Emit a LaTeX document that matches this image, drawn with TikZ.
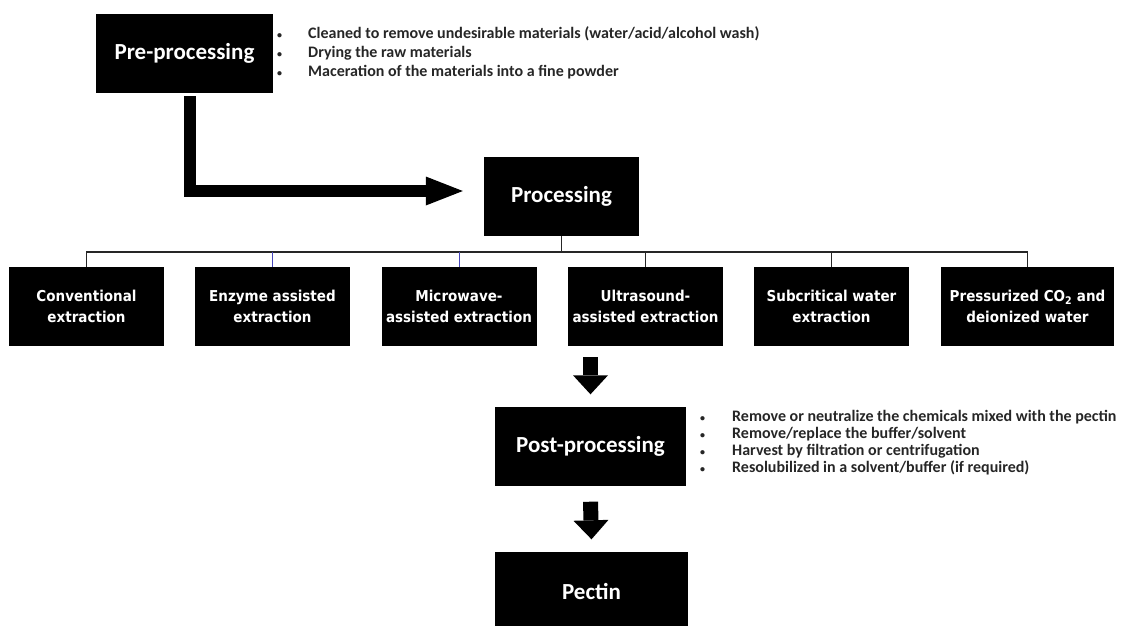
\documentclass[tikz,border=0pt]{standalone}
\usepackage{fontspec}
\setmainfont{Carlito}
\newfontfamily\metodofont[FakeStretch=0.9]{DejaVu Sans}
\newcommand{\punto}[1]{\makebox[#1][l]{\fontsize{10}{10}\selectfont\textbullet}}
\usetikzlibrary{arrows.meta}

\begin{document}
\begin{tikzpicture}[x=1pt, y=-1pt,
    fase/.style={rectangle, fill=black, text=white, inner sep=0pt, minimum height=79pt,
      font=\fontsize{23}{27}\selectfont\bfseries},
    metodo/.style={rectangle, fill=black, text=white, inner sep=0pt, minimum width=155pt,
      minimum height=79pt, align=center, font=\metodofont\fontsize{15}{21}\selectfont\bfseries},
    note/.style={inner sep=0pt, anchor=west, align=left, text=black!85},
    albero/.style={line width=1.8pt, black!85},
    ramo/.style={line width=1pt, blue!45!gray},
    freccia/.style={line width=15pt, -{Triangle[width=35pt, length=19pt, line width=0pt]}},
    freccialunga/.style={line width=12pt, -{Triangle[width=29pt, length=37pt, line width=0pt]}}]
  \useasboundingbox (0,0) rectangle (1125,625);

  % Fasi principali
  \node[fase, minimum width=177pt] (pre) at (184.5,53.5) {Pre-processing};
  \node[fase, minimum width=155pt] (proc) at (561.5,196) {Processing};
  \node[fase, minimum width=191pt] (post) at (590.5,446) {Post-processing};
  \node[fase, minimum width=193pt] (pectin) at (591.5,591) {Pectin};

  % Metodi di estrazione
  \node[metodo] (e1) at (86.5,306.5) {Conventional\\extraction};
  \node[metodo] (e2) at (272.5,306.5) {Enzyme assisted\\extraction};
  \node[metodo] (e3) at (459,306.5) {Microwave-\\assisted extraction};
  \node[metodo] (e4) at (645.5,306.5) {Ultrasound-\\assisted extraction};
  \node[metodo] (e5) at (831.5,306.5) {Subcritical water\\extraction};
  \node[metodo, minimum width=173pt] (e6) at (1027.5,306.5) {Pressurized CO\textsubscript{2} and\\deionized water};

  % Note a punti
  \node[note, font=\fontsize{16}{19}\selectfont\bfseries] (prenote) at (277,53)
    {\punto{31pt}Cleaned to remove undesirable materials (water/acid/alcohol wash)\\
     \punto{31pt}Drying the raw materials\\
     \punto{31pt}Maceration of the materials into a fine powder};
  \node[note, font=\fontsize{16}{17}\selectfont\bfseries] (postnote) at (700,443)
    {\punto{32pt}Remove or neutralize the chemicals mixed with the pectin\\
     \punto{32pt}Remove/replace the buffer/solvent\\
     \punto{32pt}Harvest by filtration or centrifugation\\
     \punto{32pt}Resolubilized in a solvent/buffer (if required)};

  % Albero sotto Processing
  \coordinate (bus) at (0,252);
  \draw[albero] (proc.south) -- (proc.south |- bus);
  \draw[albero] (e1.north) -- (e1.north |- bus) -- (e6.north |- bus) -- (e6.north);
  \foreach \n in {e4,e5} \draw[albero] (\n.north |- bus) -- (\n.north);
  \foreach \n in {e2,e3} \draw[ramo] (\n.north |- bus) -- (\n.north);

  % Frecce
  \draw[freccialunga] ([xshift=5.5pt,yshift=-3pt]pre.south) |- ([xshift=-21pt,yshift=5pt]proc.west); % da Pre a Processing
  \path (e4.south -| post.north) ++(0,11) coordinate (a1);
  \draw[freccia] (a1) -- ([yshift=12pt]post.north); % verso Post-processing
  \draw[freccia] ([yshift=-16pt]post.south) -- ([yshift=12pt]pectin.north); % verso Pectin
\end{tikzpicture}
\end{document}
